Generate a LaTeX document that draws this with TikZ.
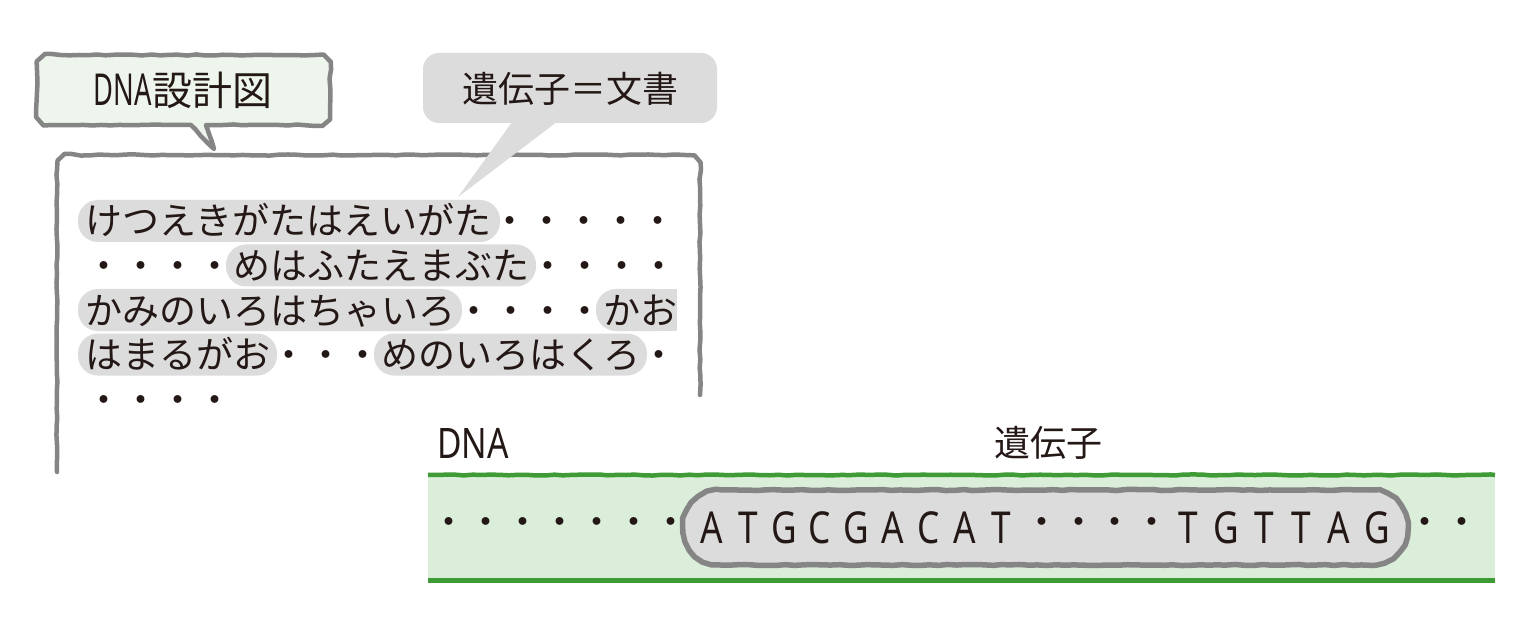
\documentclass[tikz,border=0pt]{standalone}
\usepackage{fontspec}
\setmainfont{Noto Sans CJK JP}
\newfontfamily\jpf{Noto Sans CJK JP}
\newfontfamily\latf{Noto Sans}
\usetikzlibrary{decorations.pathmorphing}
\definecolor{ink}{HTML}{231815}
\definecolor{edgegray}{HTML}{858585}
\definecolor{hlgray}{HTML}{DCDCDC}
\definecolor{bubgreen}{HTML}{EEF5EC}
\definecolor{bandgreen}{HTML}{DAEEDA}
\definecolor{linegreen}{HTML}{3E9B36}
\begin{document}
\begin{tikzpicture}[x=1pt,y=-1pt,
  wob/.style={decorate,decoration={random steps,segment length=9pt,amplitude=0.55pt}},
  outline/.style={draw=edgegray,line width=4.5pt,line join=round,line cap=round},
  hl/.style={fill=hlgray,rounded corners=20pt},
  jtext/.style={font=\jpf\fontsize{37}{37}\selectfont,text=ink,inner sep=0pt,text height=32.5pt,text depth=4.5pt,anchor=west},
  lbl/.style={font=\jpf\fontsize{36}{36}\selectfont,text=ink,inner sep=0pt},
  base/.style={font=\latf\fontsize{44}{44}\selectfont,text=ink,inner sep=0pt},
  dotc/.style={font=\jpf\fontsize{37}{37}\selectfont,text=ink,inner sep=0pt}
]
\pgfmathsetseed{7}
\useasboundingbox (0,0) rectangle (1536,628);
\fill[white] (0,0) rectangle (1536,628);

% big box (open at the bottom)
\draw[outline,wob] (57,472) -- (57,170) arc[start angle=180,end angle=270,radius=15] -- (685,155) arc[start angle=270,end angle=360,radius=15] -- (700,395);

% bubble 1
\filldraw[outline,fill=bubgreen,wob]
  (37,70) arc[start angle=180,end angle=270,radius=15] -- (315,55)
  arc[start angle=270,end angle=360,radius=15] -- (330,110)
  arc[start angle=0,end angle=90,radius=15] -- (206,125)
  -- (214,149) -- (191,125) -- (52,125)
  arc[start angle=90,end angle=180,radius=15] -- cycle;
\node[lbl,font=\jpf\fontsize{40}{40}\selectfont] (b1) at (183,90) {\scalebox{0.62}[1]{\latf\fontsize{44}{44}\selectfont DNA}設計図};

% bubble 2
\fill[hlgray,rounded corners=16pt] (423,53) rectangle (717,123);
\fill[hlgray] (515,118) -- (458,197) -- (562,118) -- cycle;
\node[lbl] (b2) at (570,89) {遺伝子＝文書};

% highlights
\fill[hl] (78,200) rectangle (500,242);
\fill[hl] (226,244.5) rectangle (536,286.5);
\fill[hl] (78,289) rectangle (462,331);
\fill[hl] (596,289) rectangle (677,331);
\fill[hlgray] (640,289) rectangle (677,331);
\fill[hl] (78,333.5) rectangle (277,375.5);
\fill[hl] (374,333.5) rectangle (647,375.5);

% text lines
\node[jtext] (l1) at (85,221) {けつえきがたはえいがた・・・・・};
\node[jtext] (l2) at (85,265.5) {・・・・めはふたえまぶた・・・・};
\node[jtext] (l3) at (85,310) {かみのいろはちゃいろ・・・・かお};
\node[jtext] (l4) at (85,354.5) {はまるがお・・・めのいろはくろ・};
\node[jtext] (l5) at (85,399) {・・・・};

% labels above the DNA band
\node[base,font=\latf\fontsize{42}{42}\selectfont] (dna) at (473,443) {\scalebox{0.8}[1]{DNA}};
\node[lbl] (gene) at (1048,443) {遺伝子};

% DNA band
\fill[bandgreen] (428,475) rectangle (1495,580);
\draw[linegreen,line width=4.5pt,wob] (428,475) -- (1495,475);
\draw[linegreen,line width=5pt] (428,580) -- (1495,580);

% gene capsule
\filldraw[outline,line width=5.5pt,fill=hlgray,wob] (720.5,490) -- (1370.5,490)
  arc[start angle=-90,end angle=90,radius=37.5] -- (720.5,565)
  arc[start angle=90,end angle=270,radius=37.5] -- cycle;

% bases
\foreach \ch/\xx [count=\i] in {A/712,T/748,G/784,C/820,G/856,A/893,C/929,A/965,T/1001,T/1188,G/1226,T/1264,T/1301,A/1339,G/1377}
  \node[base] (s\i) at (\xx,528) {\scalebox{0.8}[1]{\ch}};
% dots
\foreach \xx [count=\i] in {449,486,523,560,597,634,671,1042,1079,1115,1152,1425,1462}
  \node[dotc] (d\i) at (\xx,527) {・};
\end{tikzpicture}
\end{document}
